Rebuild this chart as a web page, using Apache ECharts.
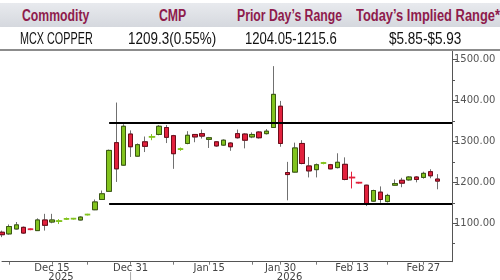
<!DOCTYPE html>
<html><head><meta charset="utf-8">
<script src="https://cdn.jsdelivr.net/npm/echarts@6/dist/echarts.min.js"></script>
<style>
html,body{margin:0;padding:0;background:#fff;}
#wrap{position:relative;width:500px;height:280px;overflow:hidden;background:#fff;}
#chart{position:absolute;left:0;top:0;width:500px;height:280px;}
#hdr{position:absolute;left:0;top:3px;width:500px;height:24px;background:linear-gradient(#e8eaee,#d5d8de);}
#sep{position:absolute;left:0;top:48.5px;width:500px;height:2px;background:#8c8c8c;}
.cell{position:absolute;white-space:nowrap;font-family:"Liberation Sans",Arial,sans-serif;font-size:16px;line-height:16px;transform-origin:0 50%;}
.h{color:#8e1b4c;font-weight:bold;}
.d{color:#111;}
</style></head>
<body><div id="wrap"><div id="chart"></div><div id="hdr"></div><div id="sep"></div></div>
<script>
// ---------- data ----------
const headerTitles = ['Commodity', 'CMP', 'Prior Day\u2019s Range', 'Today\u2019s Implied Range*'];
const rowValues = ['MCX COPPER', '1209.3(0.55%)', '1204.05-1215.6', '$5.85-$5.93'];

const categories = ['Dec 4','Dec 5','Dec 8','Dec 9','Dec 10','Dec 11','Dec 12','Dec 15','Dec 16','Dec 17','Dec 18','Dec 19','Dec 22','Dec 23','Dec 24','Dec 26','Dec 29','Dec 30','Dec 31',
 'Jan 1','Jan 2','Jan 5','Jan 6','Jan 7','Jan 8','Jan 9','Jan 12','Jan 13','Jan 14','Jan 15','Jan 16','Jan 19','Jan 20','Jan 21','Jan 22','Jan 23','Jan 27','Jan 28','Jan 29','Jan 30',
 'Feb 2','Feb 3','Feb 4','Feb 5','Feb 6','Feb 9','Feb 10','Feb 11','Feb 12','Feb 13','Feb 16','Feb 17','Feb 18','Feb 19','Feb 20','Feb 23','Feb 24','Feb 25','Feb 26','Feb 27',
 'Mar 2','Mar 3','Mar 4','Mar 5'];

const openP  = [1078,1074,1086,1090,1085.5,1082,1108,1103,1105,1110.5,1111,1108,1121,1133,1158,1178,1297,1242,1318,1264,1299,1311,1317,1334,1314,1281,1295,1317,1319,1305,1299,1291,1296,1319,1318,1311,1323,1319,1334,1386,1224,1225,1295,1240,1231,1247,1243,1236,1244,1212,1199.5,1193,1154,1176,1153,1193,1205,1206,1213,1212,1226,1208];
const closeP = [1072,1092,1096,1076,1085,1108,1095,1108,1105.5,1111,1111.5,1115,1121.5,1152,1172,1278,1233,1337,1287,1292,1288,1311.5,1337,1310,1270,1281.5,1315,1311,1313,1309,1289,1303,1287,1309,1303,1317,1309,1325,1415,1295,1219,1284,1246,1228,1243,1247.5,1233,1249,1207,1211.5,1199,1148,1180,1158,1168,1197,1198,1213,1207,1222,1216,1203];
const lowP   = [1066,1072,1085,1074,1083,1081,1082,1100,1098,1108,1109,1107,1119,1132,1157,1177,1201,1240,1262,1263,1274,1303,1315,1296,1233,1277,1293,1298,1307,1284,1287,1289,1277,1307,1283,1308,1307,1317,1333,1287,1156,1224,1244,1212,1212,1244,1232,1234,1205,1185,1197,1142,1152,1150,1151,1192,1188,1204,1200,1209,1210,1183];
const highP  = [1082,1097,1103,1092,1087,1112,1123,1123,1110,1114,1113,1117,1123,1158,1180,1280,1395,1342,1327,1295,1312,1318,1340,1340,1316,1285,1325,1318,1329,1311,1300,1305,1298,1329,1320,1322,1325,1330,1484,1399,1250,1297,1303,1262,1246,1250,1245,1271,1261,1226,1201,1194,1182,1190,1172,1207,1211,1215,1215,1226,1232,1220];

const resistanceLevel = 1346.5;
const supportLevel = 1148;
const levelStart = 'Dec 26';

const labeledDates = ['Dec 15','Dec 31','Jan 15','Jan 30','Feb 13','Feb 27'];
const tickDates = ['Dec 5','Dec 15','Dec 22','Dec 31','Jan 8','Jan 15','Jan 23','Jan 30','Feb 6','Feb 13','Feb 20','Feb 27'];
const yearLabels = {'Dec 15': '2025', 'Jan 30': '2026'};
const yearBoundary = 'Dec 31';

const yMajorTicks = [1100, 1200, 1300, 1400, 1500];
const yMinorTicks = [1050, 1150, 1250, 1350, 1450];

// ---------- header table ----------
const wrap = document.getElementById('wrap');
const headerCx = [56, 173, 289.8, 428], headerW = [67.3, 27.3, 105, 144];
const rowCx = [56.3, 172.5, 290.8, 425.5], rowW = [72.7, 88.3, 91.7, 72.3];
function addCell(text, cls, cx, w, top) {
  const s = document.createElement('span');
  s.className = 'cell ' + cls;
  s.textContent = text;
  s.style.top = top + 'px';
  wrap.appendChild(s);
  const nat = s.getBoundingClientRect().width;
  s.style.left = (cx - w / 2) + 'px';
  s.style.transform = 'scaleX(' + (w / nat) + ')';
}
headerTitles.forEach((t, i) => addCell(t, 'h', headerCx[i], headerW[i], 8.2));
rowValues.forEach((t, i) => addCell(t, 'd', rowCx[i], rowW[i], 30.8));

// ---------- chart ----------
const GREEN = '#82c31e', GREEN_B = '#3b5a12', RED = '#e2213d', RED_B = '#6d0c1a', WICK = '#707070';
const isDoji = i => Math.abs(openP[i] - closeP[i]) < 1.5;
const wickData = openP.map((o, i) => {
  const d = { value: [o, closeP[i], lowP[i], highP[i]] };
  if (isDoji(i)) {
    const c = closeP[i] >= o ? GREEN : RED;
    d.itemStyle = { color: c, color0: c, borderColor: c, borderColor0: c, borderColorDoji: c };
  }
  return d;
});
const bodyData = openP.map((o, i) => {
  const c = closeP[i];
  const d = { value: [o, c, Math.min(o, c), Math.max(o, c)] };
  if (isDoji(i)) {
    const col = c >= o ? GREEN : RED;
    d.itemStyle = { color: col, color0: col, borderColor: col, borderColor0: col, borderColorDoji: col, borderWidth: 1.5 };
  }
  return d;
});

const chart = echarts.init(document.getElementById('chart'), null, { renderer: 'canvas' });
const axisFont = { fontFamily: 'DejaVu Sans', fontSize: 10 };
chart.setOption({
  animation: false,
  backgroundColor: 'transparent',
  grid: { left: 2, right: 48, top: 51, bottom: 18.3, containLabel: false, outerBoundsMode: 'none' },
  xAxis: {
    type: 'category', data: categories, boundaryGap: false,
    axisLine: { lineStyle: { color: '#555', width: 1 } },
    axisTick: { show: true, length: 3, lineStyle: { color: '#777' },
      interval: (idx, val) => tickDates.includes(val) },
    axisLabel: {
      interval: (idx, val) => labeledDates.includes(val),
      margin: 2, color: '#444', ...axisFont, lineHeight: 9,
      formatter: v => yearLabels[v] ? '{m|' + v + '}\n{y|' + yearLabels[v] + '}' : '{m|' + v + '}',
      rich: { m: { ...axisFont, color: '#444', lineHeight: 9 },
              y: { ...axisFont, color: '#444', lineHeight: 9, padding: [0, 0, 0, 18] } }
    },
    splitLine: { show: false }
  },
  yAxis: [{
    type: 'value', position: 'right', min: 1006, max: 1521, scale: true,
    axisLine: { show: true, lineStyle: { color: '#555' } },
    axisTick: { show: true, length: 5, customValues: yMajorTicks, lineStyle: { color: '#555' } },
    axisLabel: { customValues: yMajorTicks, margin: 2, color: '#555', ...axisFont,
      formatter: v => Number(v).toFixed(2) },
    splitLine: { show: false }
  }, {
    type: 'value', position: 'right', min: 1006, max: 1521, scale: true,
    axisLine: { show: false },
    axisTick: { show: true, length: 3, customValues: yMinorTicks, lineStyle: { color: '#555' } },
    axisLabel: { show: false },
    splitLine: { show: false }
  }],
  series: [{
    type: 'candlestick', name: 'wick', data: wickData, barWidth: 5, clip: false,
    itemStyle: { color: WICK, color0: WICK, borderColor: WICK, borderColor0: WICK, borderColorDoji: WICK, borderWidth: 1 }
  }, {
    type: 'candlestick', name: 'body', data: bodyData, barWidth: 5, clip: false,
    itemStyle: { color: GREEN, color0: RED, borderColor: GREEN_B, borderColor0: RED_B, borderWidth: 1 },
    markLine: {
      silent: true, symbol: ['none', 'none'], label: { show: false },
      lineStyle: { color: '#000', width: 2, type: 'solid' },
      data: [
        [{ coord: [levelStart, resistanceLevel] }, { coord: [categories[categories.length - 1], resistanceLevel] }],
        [{ coord: [levelStart, supportLevel] }, { coord: [categories[categories.length - 1], supportLevel] }]
      ]
    }
  }]
});
const bx = chart.convertToPixel({ xAxisIndex: 0 }, yearBoundary);
chart.setOption({ graphic: [{ type: 'line', shape: { x1: bx, y1: 272, x2: bx, y2: 280 }, style: { stroke: '#aaa', lineWidth: 1 } }] });
</script></body></html>
